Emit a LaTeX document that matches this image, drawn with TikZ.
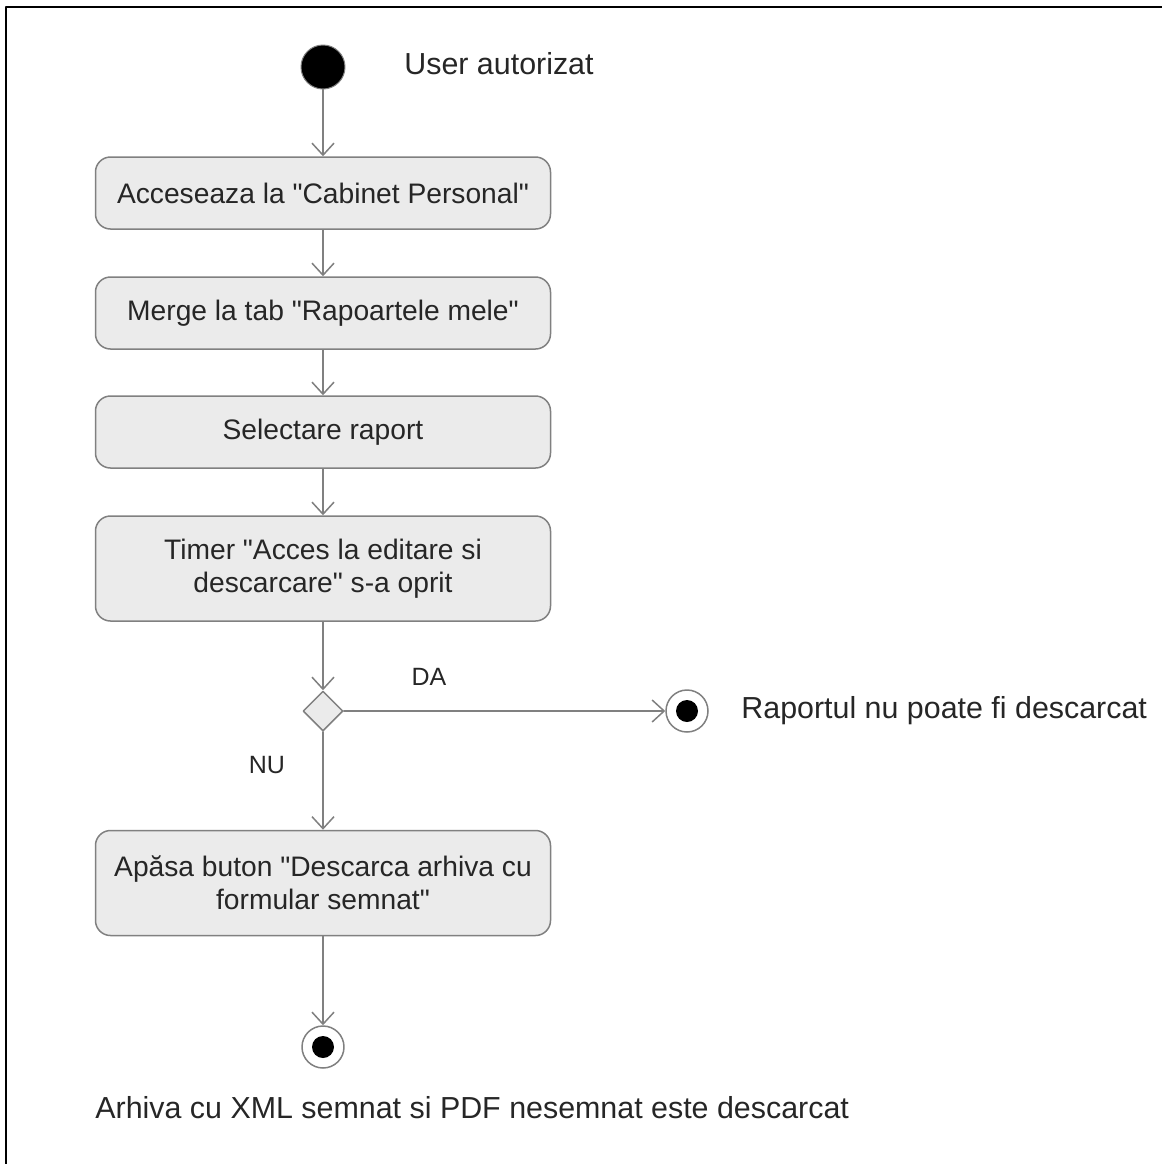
\documentclass[tikz,border=0pt]{standalone}
\usepackage{fontspec}
\setmainfont{Liberation Sans}
\usetikzlibrary{arrows.meta,shapes.geometric}
\definecolor{linegray}{HTML}{808080}
\definecolor{boxfill}{HTML}{EBEBEB}
\definecolor{txt}{HTML}{262626}
\newcommand{\qt}{\textquotedbl}
\begin{document}
\begin{tikzpicture}[x=0.5pt,y=-0.5pt,>={Straight Barb[length=6pt,width=11pt]},
		line join=round,line cap=round,font=\fontsize{15.2}{16.5}\selectfont,text=txt,
		action/.style={draw=linegray,line width=0.75pt,fill=boxfill,rounded corners=7.5pt,
			minimum width=227.5pt,minimum height=36pt,align=center,inner sep=2pt,
			font=\fontsize{14.1}{16.5}\selectfont},
		startnode/.style={circle,fill=black,draw=linegray,line width=0.5pt,minimum size=22pt,inner sep=0pt},
		endnode/.style={circle,fill=white,draw=linegray,line width=0.75pt,minimum size=21pt,inner sep=0pt,
			path picture={\fill[black] (path picture bounding box.center) circle (5.5pt);}},
		decision/.style={diamond,fill=boxfill,draw=linegray,line width=0.75pt,minimum size=20pt,inner sep=0pt},
		flow/.style={->,draw=linegray,line width=0.75pt},
		lbl/.style={anchor=west,inner sep=0pt},
		guard/.style={font=\fontsize{12.5}{14}\selectfont}]
	\useasboundingbox (0,0) rectangle (1162,1164);
	\draw[line width=1pt] (6,1164)--(6,7)--(1162,7);
	\node[startnode] (start) at (323,67) {};
	\node[lbl] (startlbl) at (404,64) {User autorizat};
	\node[action] (cabinet) at (323,193) {Acceseaza la \qt Cabinet Personal\qt};
	\node[action] (tab) at (323,313) {Merge la tab \qt Rapoartele mele\qt};
	\node[action] (select) at (323,432) {Selectare raport};
	\node[action,minimum height=52.5pt] (timer) at (323,568.5) {Timer \qt Acces la editare si\\descarcare\qt{} s-a oprit};
	\node[decision] (dec) at (323,711) {};
	\node[endnode] (stop) at (687,711) {};
	\node[lbl] (stoplbl) at (741,711) {Raportul nu poate fi descarcat};
	\node[guard] (da) at (429,677) {DA};
	\node[guard] (nu) at (267,765) {NU};
	\node[action,minimum height=52.5pt] (download) at (323,883) {Apăsa buton \qt Descarca arhiva cu\\formular semnat\qt};
	\node[endnode] (done) at (323,1047) {};
	\node[lbl] (donelbl) at (95,1108) {Arhiva cu XML semnat si PDF nesemnat este descarcat};
	\draw[flow] (start)--(cabinet);
	\draw[flow] (cabinet)--(tab);
	\draw[flow] (tab)--(select);
	\draw[flow] (select)--(timer);
	\draw[flow] (timer)--(dec);
	\draw[flow] (dec)--(stop);
	\draw[flow] (dec)--(download);
	\draw[flow] (download)--(done);
\end{tikzpicture}
\end{document}
